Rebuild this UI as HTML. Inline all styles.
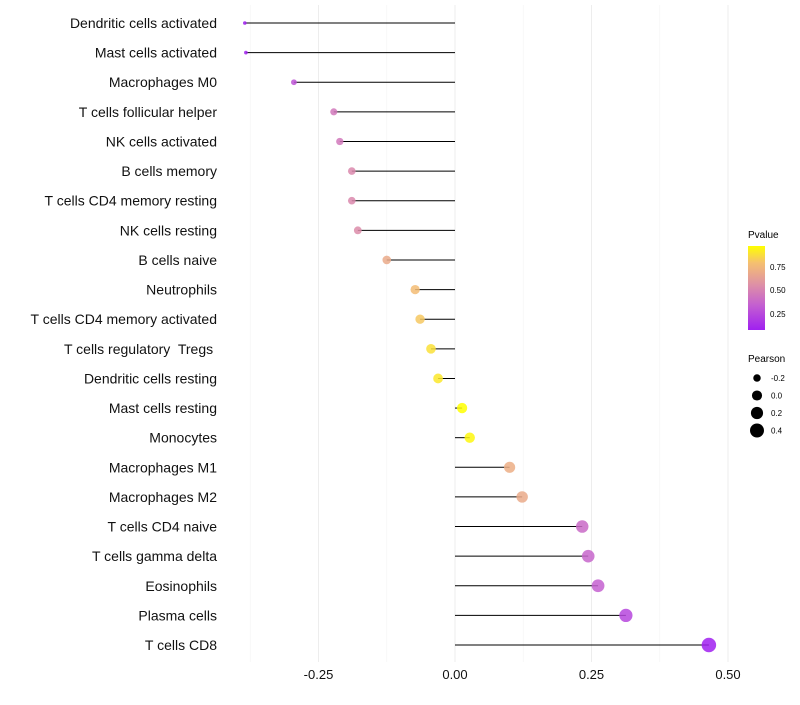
<!DOCTYPE html>
<html><head><meta charset="utf-8"><style>
body{margin:0;background:#fff;font-family:"Liberation Sans",sans-serif}
svg text{font-family:"Liberation Sans",sans-serif;white-space:pre}
</style></head><body>
<svg id="chart" width="800" height="700">
<g id="grid"></g>
<g id="marks"></g>
<g id="ylab"></g>
<g id="xlab"></g>
<g>
<defs><linearGradient id="pg" x1="0" y1="1" x2="0" y2="0">
<stop offset="0" stop-color="#a020f0"/><stop offset="0.3" stop-color="#c460d0"/><stop offset="0.55" stop-color="#df92a4"/><stop offset="0.8" stop-color="#f5c070"/><stop offset="1" stop-color="#ffff00"/></linearGradient></defs>
<text x="748" y="238" font-size="10">Pvalue</text>
<rect x="748" y="246" width="17" height="84" fill="url(#pg)"/>
<text x="770" y="270" font-size="8">0.75</text>
<text x="770" y="293" font-size="8">0.50</text>
<text x="770" y="317" font-size="8">0.25</text>
</g>
<g id="sizeleg">
<text x="748" y="362" font-size="10">Pearson</text>
</g>
</svg>
<script>
const categories=["Dendritic cells activated","Mast cells activated","Macrophages M0","T cells follicular helper","NK cells activated","B cells memory","T cells CD4 memory resting","NK cells resting","B cells naive","Neutrophils","T cells CD4 memory activated","T cells regulatory  Tregs ","Dendritic cells resting","Mast cells resting","Monocytes","Macrophages M1","Macrophages M2","T cells CD4 naive","T cells gamma delta","Eosinophils","Plasma cells","T cells CD8"];
const pearson=[-0.385,-0.383,-0.295,-0.222,-0.211,-0.189,-0.189,-0.178,-0.125,-0.073,-0.064,-0.044,-0.031,0.013,0.027,0.10,0.123,0.233,0.244,0.262,0.313,0.465];
const pvalue=[0.05,0.06,0.25,0.42,0.42,0.5,0.5,0.52,0.68,0.78,0.82,0.88,0.9,0.96,0.94,0.7,0.68,0.35,0.33,0.3,0.2,0.04];
const xTicks=[-0.25,0,0.25,0.5];
const xTickLabels=["-0.25","0.00","0.25","0.50"];
const minorTicks=[-0.375,-0.125,0.125,0.375];
const sizeLegend=[-0.2,0.0,0.2,0.4];
const NS="http://www.w3.org/2000/svg";
const X=v=>455+v*546;
const Y=i=>23+i*29.62;
const R=v=>Math.sqrt(Math.max(1.5,25.6+58*v));
function mk(t,a,p){const e=document.createElementNS(NS,t);for(const k in a)e.setAttribute(k,a[k]);p.appendChild(e);return e;}
const stops=[[0.05,[160,32,240]],[0.3,[196,96,208]],[0.55,[223,146,164]],[0.8,[245,192,112]],[0.96,[255,255,0]]];
function col(p){if(p<=stops[0][0])return `rgb(${stops[0][1]})`;for(let i=1;i<stops.length;i++){if(p<=stops[i][0]){const t=(p-stops[i-1][0])/(stops[i][0]-stops[i-1][0]);const a=stops[i-1][1],b=stops[i][1];return `rgb(${a.map((c,j)=>Math.round(c+(b[j]-c)*t)).join(',')})`;}}return 'rgb(255,255,0)';}
const grid=document.getElementById('grid'),marks=document.getElementById('marks'),ylab=document.getElementById('ylab'),xlab=document.getElementById('xlab');
minorTicks.forEach(t=>{const l=mk('line',{x1:X(t),x2:X(t),y1:5,y2:662,stroke:'#f4f4f4','stroke-width':0.6},grid);

});
xTicks.forEach((t,i)=>{const l=mk('line',{x1:X(t),x2:X(t),y1:5,y2:662,stroke:'#ededed','stroke-width':1},grid);


const tx=mk('text',{x:X(t),y:679,'font-size':13,'text-anchor':'middle',fill:'#111'},xlab);tx.textContent=xTickLabels[i];

});
categories.forEach((c,i)=>{const y=Y(i);
const l=mk('line',{x1:X(0),x2:X(pearson[i]),y1:y,y2:y,stroke:'#000','stroke-width':1},marks);


const d=mk('circle',{cx:X(pearson[i]),cy:y,r:R(pearson[i]),fill:col(pvalue[i]),'fill-opacity':0.85},marks);


const t=mk('text',{x:217,y:y+5,'font-size':14,'text-anchor':'end',fill:'#111'},ylab);t.textContent=c;

});
const sl=document.getElementById('sizeleg');
sizeLegend.forEach((v,i)=>{const y=378+i*17.5;
const c=mk('circle',{cx:757,cy:y,r:R(v),fill:'#000'},sl);


const t=mk('text',{x:771,y:y+3,'font-size':8},sl);t.textContent=v.toFixed(1);

});
</script>
</body></html>
